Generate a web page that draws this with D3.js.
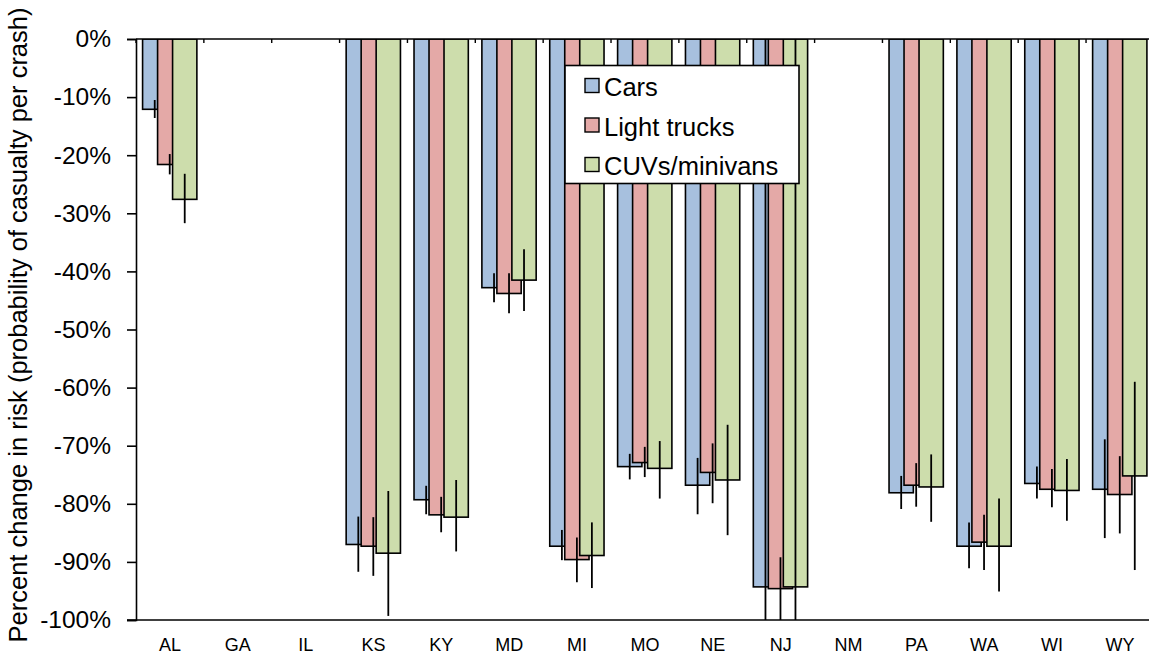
<!DOCTYPE html>
<html>
<head>
<meta charset="utf-8">
<script src="https://cdn.jsdelivr.net/npm/d3@7"></script>
<style>
  html, body { margin: 0; padding: 0; background: #fff; }
  svg { display: block; font-family: "Liberation Sans", Arial, sans-serif; }
</style>
</head>
<body>
<svg id="chart" width="1149" height="654"></svg>
<script>
// ---- data ----
const categories = ["AL","GA","IL","KS","KY","MD","MI","MO","NE","NJ","NM","PA","WA","WI","WY"];
const seriesNames = ["Cars", "Light trucks", "CUVs/minivans"];

const carsValues   = [-12.1, null, null, -87.0, -79.3, -42.8, -87.3, -73.6, -76.8, -94.3, null, -78.1, -87.3, -76.5, -77.5];
const carsErrHigh  = [-10.5, null, null, -82.2, -76.9, -40.3, -84.5, -71.4, -72.1,   0.0, null, -75.2, -83.2, -73.6, -68.9];
const carsErrLow   = [-13.6, null, null, -91.7, -81.8, -45.3, -89.7, -75.8, -81.8, -100.0, null, -80.9, -91.1, -79.1, -85.9];

const trucksValues  = [-21.6, null, null, -87.3, -81.9, -43.8, -89.6, -72.9, -74.6, -94.6, null, -76.8, -86.6, -77.5, -78.4];
const trucksErrHigh = [-19.8, null, null, -82.3, -78.8, -40.3, -85.8, -70.2, -69.6, -89.2, null, -73.0, -81.9, -74.0, -71.8];
const trucksErrLow  = [-23.3, null, null, -92.4, -84.9, -47.2, -93.5, -75.4, -79.9, -100.0, null, -80.5, -91.4, -80.6, -85.1];

const cuvValues   = [-27.6, null, null, -88.5, -82.3, -41.5, -88.9, -73.9, -75.9, -94.3, null, -77.1, -87.3, -77.7, -75.2];
const cuvErrHigh  = [-23.2, null, null, -77.8, -75.9, -36.2, -83.2, -69.2, -66.4,   0.0, null, -71.5, -79.1, -72.3, -59.0];
const cuvErrLow   = [-31.7, null, null, -99.3, -88.2, -46.8, -94.5, -79.1, -85.4, -100.0, null, -83.1, -95.1, -82.9, -91.4];

const yTicks = [0, -10, -20, -30, -40, -50, -60, -70, -80, -90, -100];
const yTitle = "Percent change in risk (probability of casualty per crash)";

// ---- styles ----
const colors = ["#A7C0DE", "#E4A9A7", "#CDDDAC"];

const series = [
  { name: seriesNames[0], values: carsValues,   hi: carsErrHigh,   lo: carsErrLow },
  { name: seriesNames[1], values: trucksValues, hi: trucksErrHigh, lo: trucksErrLow },
  { name: seriesNames[2], values: cuvValues,    hi: cuvErrHigh,    lo: cuvErrLow }
];

const svg = d3.select("#chart");
const plotLeft = 136, plotTop = 39, plotBottom = 620;
const bandStep = 67.86;
const plotRight = plotLeft + bandStep * categories.length;

const x = d3.scaleBand().domain(categories).range([plotLeft, plotRight]).paddingInner(0).paddingOuter(0);
const y = d3.scaleLinear().domain([-100, 0]).range([plotBottom, plotTop]);

const bw = x.bandwidth();
const barW = bw * 0.358;
const offsetStart = bw * 0.097;
const seriesX = d3.scalePoint().domain(seriesNames).range([offsetStart, offsetStart + bw * 0.442]);

svg.append("defs").append("clipPath").attr("id", "plotclip")
  .append("rect").attr("x", plotLeft).attr("y", plotTop).attr("width", plotRight - plotLeft).attr("height", plotBottom - plotTop);

const plot = svg.append("g").attr("clip-path", "url(#plotclip)");

// bars
series.forEach((s, si) => {
  plot.append("g").selectAll("rect")
    .data(categories.map((c, i) => ({ c, v: s.values[i] })).filter(d => d.v !== null))
    .join("rect")
    .attr("x", d => x(d.c) + seriesX(s.name))
    .attr("y", d => y(0))
    .attr("width", barW)
    .attr("height", d => y(d.v) - y(0))
    .attr("fill", colors[si])
    .attr("stroke", "#000")
    .attr("stroke-width", 1.6);
});

// error bars
series.forEach((s, si) => {
  plot.append("g").selectAll("line")
    .data(categories.map((c, i) => ({ c, hi: s.hi[i], lo: s.lo[i] })).filter(d => d.hi !== null))
    .join("line")
    .attr("x1", d => x(d.c) + seriesX(s.name) + barW / 2)
    .attr("x2", d => x(d.c) + seriesX(s.name) + barW / 2)
    .attr("y1", d => y(d.hi))
    .attr("y2", d => y(d.lo))
    .attr("stroke", "#000")
    .attr("stroke-width", 1.8);
});

// top category axis line (at 0%)
svg.append("line").attr("x1", plotLeft).attr("x2", 1149).attr("y1", y(0)).attr("y2", y(0))
  .attr("stroke", "#000").attr("stroke-width", 1.6);
// boundary ticks
svg.append("g").selectAll("line")
  .data(d3.range(categories.length + 1))
  .join("line")
  .attr("x1", i => plotLeft + i * x.step())
  .attr("x2", i => plotLeft + i * x.step())
  .attr("y1", y(0))
  .attr("y2", y(0) + 4)
  .attr("stroke", "#000").attr("stroke-width", 1.4);

// bottom line at -100%
svg.append("line").attr("x1", plotLeft - 9).attr("x2", 1149).attr("y1", y(-100)).attr("y2", y(-100))
  .attr("stroke", "#000").attr("stroke-width", 1.6);

// category labels
svg.append("g").selectAll("text")
  .data(categories)
  .join("text")
  .attr("x", d => x(d) + bw / 2)
  .attr("y", 651)
  .attr("text-anchor", "middle")
  .attr("font-size", 18)
  .attr("fill", "#000")
  .text(d => d);

// y axis
const yAxis = d3.axisLeft(y).tickValues(yTicks).tickSize(9).tickPadding(16).tickFormat(d => d + "%");
const gy = svg.append("g").attr("transform", `translate(${plotLeft},0)`).call(yAxis);
gy.select(".domain").attr("stroke-width", 1.6);
gy.selectAll(".tick line").attr("stroke-width", 1.6);
gy.selectAll(".tick text").attr("font-size", 24.5).attr("font-family", "Liberation Sans, Arial, sans-serif").attr("fill", "#000");

// y title
svg.append("text")
  .attr("transform", `translate(27,325) rotate(-90)`)
  .attr("text-anchor", "middle")
  .attr("font-size", 25.5)
  .attr("fill", "#000")
  .text(yTitle);

// legend
const lg = svg.append("g");
lg.append("rect").attr("x", 565).attr("y", 65.5).attr("width", 234).attr("height", 118)
  .attr("fill", "#fff").attr("stroke", "#000").attr("stroke-width", 1.6);
seriesNames.forEach((n, i) => {
  const cy = 86 + i * 39.5;
  lg.append("rect").attr("x", 585).attr("y", cy - 7.5).attr("width", 14).attr("height", 14)
    .attr("fill", colors[i]).attr("stroke", "#000").attr("stroke-width", 1.4);
  lg.append("text").attr("x", 604).attr("y", cy + 10).attr("font-size", 25.5).attr("fill", "#000").text(n);
});
</script>
</body>
</html>
